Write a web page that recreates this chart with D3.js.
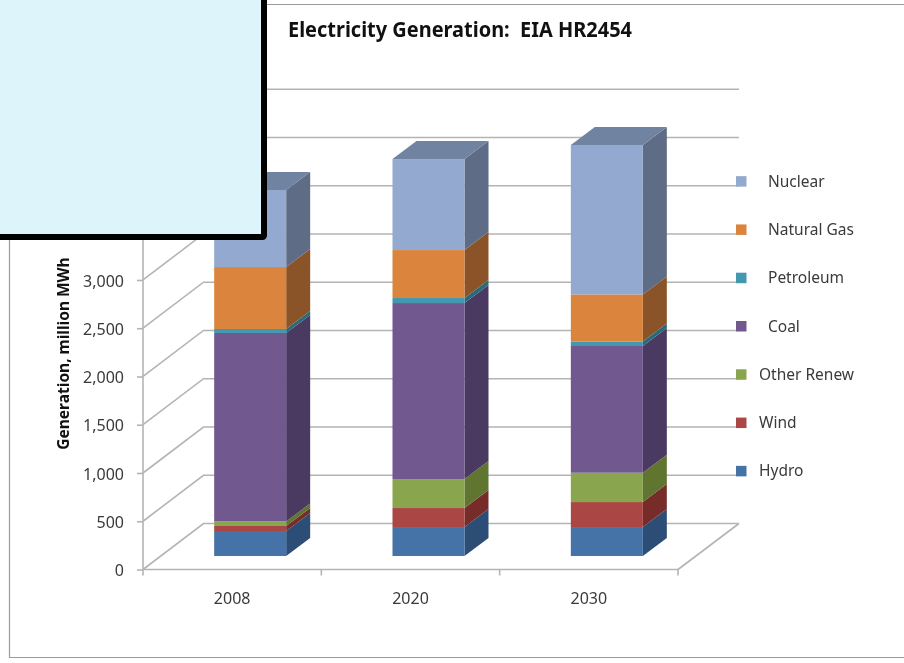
<!DOCTYPE html>
<html><head><meta charset="utf-8">
<script src="https://cdn.jsdelivr.net/npm/d3@7"></script>
<style>html,body{margin:0;padding:0;background:#fff;overflow:hidden}svg{display:block;font-family:"Noto Sans",sans-serif;filter:blur(.35px)}</style>
</head><body><div id="c"></div>
<script>
const categories = ["2008","2020","2030"];
const seriesNames = ["Hydro","Wind","Other Renew","Coal","Petroleum","Natural Gas","Nuclear"];
const hydro = [259,300,300];
const wind = [52,197,259];
const otherRenew = [47,300,304];
const coal = [1953,1824,1313];
const petroleum = [41,52,47];
const naturalGas = [642,497,487];
const nuclear = [798,943,1549];
const seriesValues = [hydro,wind,otherRenew,coal,petroleum,naturalGas,nuclear];
const frontColors = ["#4572A7","#AA4643","#89A54E","#71588F","#4198AF","#DB843D","#93A9CF"];
const sideColors = ["#2C4D75","#772C2A","#5F7530","#4A3960","#276A7C","#8B5428","#5E6C85"];
const topColor = "#7083A0";
const yTicks = [0,500,1000,1500,2000,2500,3000,3500,4000,4500];
const legendLabelX = [759,759,759,768,768,768,768];
const title = "Electricity Generation:  EIA HR2454";
const yTitle = "Generation, million MWh";

const W=904,H=663;
const svg=d3.select("#c").append("svg").attr("width",W).attr("height",H);
const x=d3.scaleBand().domain(categories).range([143,678]);
const y=d3.scaleLinear().domain([0,4500]).range([569.5,135.2]);
const back={dx:60.5,dy:-46};
const depth={dx:24,dy:-18};
const barW=72, barOff={dx:18,dy:-13.5};
const gridC="#b4b4b4";

// frame
svg.append("path").attr("d",`M${W},4.5H9.5V657.5H${W}`).attr("fill","none").attr("stroke","#9a9a9a").attr("stroke-width",1.2);

// walls
const wall=svg.append("g").attr("fill","none").attr("stroke",gridC).attr("stroke-width",1.6);
yTicks.forEach(v=>{
  const yy=y(v);
  wall.append("path").attr("d",`M143,${yy}L${143+back.dx},${yy+back.dy}H739`);
});
wall.append("path").attr("d",`M678,${y(0)}L739,${y(0)+back.dy}`);

// axes
const gy=svg.append("g").attr("transform","translate(143,0)")
 .call(d3.axisLeft(y).tickValues(yTicks).tickSize(6).tickFormat(d3.format(",")));
const gx=svg.append("g").attr("transform",`translate(0,${y(0)})`)
 .call(d3.axisBottom(x).tickSize(0).tickPadding(23));
[gy,gx].forEach(g=>{g.selectAll("path,line").attr("stroke",gridC).attr("stroke-width",1.6);
 g.selectAll("text").attr("font-family",'"Noto Sans",sans-serif').attr("font-size",16).attr("fill","#3a3a3a");});
gy.selectAll("text").attr("x",-19).attr("y",1);
gy.select(".domain").attr("d",`M0,${y(4500)}V${y(0)}`);
gx.select(".domain").attr("d","M143,0H678");
gx.selectAll(".xt").data(d3.range(4)).enter().append("line").attr("x1",i=>143+i*x.bandwidth()).attr("x2",i=>143+i*x.bandwidth()).attr("y1",0).attr("y2",6).attr("stroke",gridC).attr("stroke-width",1.6);

// bars
const stack=categories.map((c,i)=>{let acc=0;return seriesValues.map((s,k)=>{const o={c,k,y0:acc,y1:acc+s[i]};acc+=s[i];return o;});});
const bars=svg.append("g");
stack.forEach((segs)=>{
  const c=segs[0].c;
  const x0=x(c)+x.bandwidth()/2+barOff.dx-barW/2, x1=x0+barW;
  const g=bars.append("g");
  g.selectAll(".side").data(segs).enter().append("path")
   .attr("fill",d=>sideColors[d.k])
   .attr("d",d=>{const a=y(d.y0)+barOff.dy,b=y(d.y1)+barOff.dy;
     return `M${x1},${a}L${x1+depth.dx},${a+depth.dy}V${b+depth.dy}L${x1},${b}Z`;});
  const tv=y(segs[segs.length-1].y1)+barOff.dy;
  g.append("path").attr("fill",topColor)
   .attr("d",`M${x0},${tv}L${x0+depth.dx},${tv+depth.dy}H${x1+depth.dx}L${x1},${tv}Z`);
  g.selectAll(".front").data(segs).enter().append("rect")
   .attr("x",x0).attr("width",barW)
   .attr("y",d=>y(d.y1)+barOff.dy)
   .attr("height",d=>y(d.y0)-y(d.y1))
   .attr("fill",d=>frontColors[d.k]);
});

// legend
const legendY=d3.scaleBand().domain(seriesNames).range([495,157]);
const lg=svg.append("g");
seriesNames.forEach((n,k)=>{
  const cy=legendY(n)+legendY.bandwidth()/2;
  lg.append("rect").attr("x",736).attr("y",cy-5).attr("width",10.5).attr("height",10.5).attr("fill",frontColors[k]);
  lg.append("text").attr("x",legendLabelX[k]).attr("y",cy+5.5).attr("font-size",15.5).attr("fill","#3a3a3a").text(n);
});

// titles
svg.append("text").attr("x",288).attr("y",37).attr("font-size",21.5).attr("font-weight",700).attr("fill","#111").attr("textLength",344).attr("lengthAdjust","spacingAndGlyphs").style("white-space","pre").text(title);
svg.append("text").attr("transform","translate(68.5,353.5) rotate(-90)").attr("text-anchor","middle").attr("font-size",15.5).attr("font-weight",700).attr("fill","#111").text(yTitle);

// overlay box
svg.append("rect").attr("x",-10).attr("y",-10).attr("width",274).attr("height",247).attr("rx",1.5).attr("fill","#DDF5FA").attr("stroke","#000").attr("stroke-width",6);
</script></body></html>
